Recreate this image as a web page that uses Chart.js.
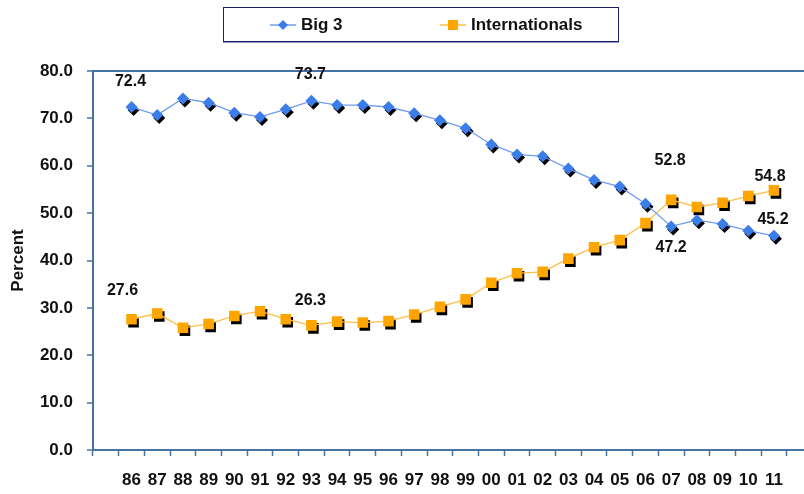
<!DOCTYPE html>
<html>
<head>
<meta charset="utf-8">
<script src="https://cdn.jsdelivr.net/npm/chart.js@4"></script>
<style>
  html, body { margin: 0; padding: 0; overflow: hidden; background: #fff; }
  #wrap { position: relative; width: 820px; height: 494px; }
  #legend {
    position: absolute; left: 223px; top: 7px; width: 394px; height: 33px;
    border: 1px solid #1b1f6b; box-shadow: 0 1px 0 #8a98c0; background: #fff;
    font: bold 17px "Liberation Sans", Arial, sans-serif; color: #111;
  }
  .item { position: absolute; top: 0; height: 33px; display: flex; align-items: center; }
  .item svg { margin-right: 5px; }
</style>
</head>
<body>
<div id="wrap">
  <canvas id="chart" width="820" height="494"></canvas>
  <div id="legend">
    <div class="item" style="left:46px">
      <svg width="26" height="12"><line x1="0" y1="6" x2="26" y2="6" stroke="#6f9cf2" stroke-width="1.5"/><polygon points="13,1 18,6 13,11 8,6" fill="#3b7de9"/></svg>Big 3
    </div>
    <div class="item" style="left:216px">
      <svg width="26" height="12"><line x1="0" y1="6" x2="26" y2="6" stroke="#ffbf47" stroke-width="1.5"/><rect x="8" y="1" width="10" height="10" fill="#ffa500"/></svg>Internationals
    </div>
  </div>
</div>
<script>
// years, with an empty slot on each side like the original
const years = ['', '86', '87', '88', '89', '90', '91', '92', '93', '94', '95', '96', '97', '98', '99',
  '00', '01', '02', '03', '04', '05', '06', '07', '08', '09', '10', '11', ''];

const big3 = [null, 72.4, 70.7, 74.2, 73.3, 71.2, 70.3, 71.9, 73.7, 72.8, 72.8, 72.4, 71.1, 69.6, 67.9,
  64.5, 62.4, 62.0, 59.4, 57.0, 55.6, 52.0, 47.2, 48.5, 47.7, 46.3, 45.2, null];

const internationals = [null, 27.6, 28.8, 25.8, 26.6, 28.3, 29.3, 27.6, 26.3, 27.1, 26.9, 27.2, 28.6, 30.2, 31.8,
  35.3, 37.3, 37.6, 40.4, 42.8, 44.3, 47.9, 52.8, 51.3, 52.2, 53.6, 54.8, null];

const yTicks = [0, 10, 20, 30, 40, 50, 60, 70, 80];

// which points get a value written next to them (dataset index, point index, offset)
const callouts = [
  { ds: 2, i: 1, dx: -1, dy: -25 },
  { ds: 2, i: 8, dx: -1, dy: -26 },
  { ds: 2, i: 22, dx: 0, dy: 21 },
  { ds: 2, i: 26, dx: -1, dy: -16 },
  { ds: 3, i: 1, dx: -9, dy: -29 },
  { ds: 3, i: 8, dx: -1, dy: -25 },
  { ds: 3, i: 22, dx: -1, dy: -39 },
  { ds: 3, i: 26, dx: -4, dy: -14 }
];

const axisColor = '#4673a3';
const font = 'Liberation Sans';

// shift the black copies a bit so they look like drop shadows
const shadowShift = {
  id: 'shadowShift',
  beforeDatasetDraw(chart, args) {
    if (chart.data.datasets[args.index].shadow) {
      chart.ctx.save();
      chart.ctx.translate(2, 3);
    }
  },
  afterDatasetDraw(chart, args) {
    if (chart.data.datasets[args.index].shadow) chart.ctx.restore();
  }
};

const valueLabels = {
  id: 'valueLabels',
  afterDatasetsDraw(chart) {
    const ctx = chart.ctx;
    ctx.save();
    ctx.font = 'bold 16px ' + font;
    ctx.fillStyle = '#111';
    ctx.textAlign = 'center';
    ctx.textBaseline = 'middle';
    callouts.forEach(c => {
      const pt = chart.getDatasetMeta(c.ds).data[c.i];
      const v = chart.data.datasets[c.ds].data[c.i];
      ctx.fillText(v.toFixed(1), pt.x + c.dx, pt.y + c.dy);
    });
    ctx.restore();
  }
};

new Chart(document.getElementById('chart'), {
  type: 'line',
  data: {
    labels: years,
    datasets: [
      { data: big3, shadow: true, showLine: false, pointStyle: 'rectRot', pointRadius: 6,
        pointBackgroundColor: '#000', pointBorderWidth: 0, order: 10 },
      { data: internationals, shadow: true, showLine: false, pointStyle: 'rect', pointRadius: 7.5,
        pointBackgroundColor: '#000', pointBorderWidth: 0, order: 10 },
      { label: 'Big 3', data: big3, borderColor: '#6f9cf2', borderWidth: 1.3, pointStyle: 'rectRot',
        pointRadius: 6, pointBackgroundColor: '#3b7de9', pointBorderWidth: 0, order: 1 },
      { label: 'Internationals', data: internationals, borderColor: '#ffbf47', borderWidth: 1.3, pointStyle: 'rect',
        pointRadius: 7.5, pointBackgroundColor: '#ffa500', pointBorderWidth: 0, order: 2 }
    ]
  },
  options: {
    responsive: false,
    animation: false,
    layout: { padding: { top: 71, left: 0, right: 3, bottom: 0 } },
    plugins: { legend: { display: false }, tooltip: { enabled: false } },
    scales: {
      x: {
        offset: true,
        grid: { offset: true, drawOnChartArea: false, tickColor: axisColor, tickLength: 6, tickWidth: 1.5 },
        border: { color: axisColor, width: 2 },
        ticks: { color: '#111', font: { family: font, size: 17, weight: 'bold' }, padding: 14,
          maxRotation: 0, autoSkip: false },
        afterFit: s => { s.height = 44; }
      },
      y: {
        min: 0,
        max: 80,
        afterBuildTicks: s => { s.ticks = yTicks.map(v => ({ value: v })); },
        grid: {
          color: c => (c.tick && c.tick.value === 80 ? axisColor : 'transparent'),
          lineWidth: 2,
          tickColor: axisColor, tickLength: 6, tickWidth: 1.5
        },
        border: { color: axisColor, width: 2 },
        ticks: { color: '#111', font: { family: font, size: 17, weight: 'bold' }, padding: 14,
          callback: v => v.toFixed(1) },
        title: { display: true, text: 'Percent', color: '#111',
          font: { family: font, size: 17, weight: 'bold' }, padding: { top: 8, bottom: 0 } },
        afterFit: s => { s.width = 93; }
      }
    }
  },
  plugins: [shadowShift, valueLabels]
});
</script>
</body>
</html>
